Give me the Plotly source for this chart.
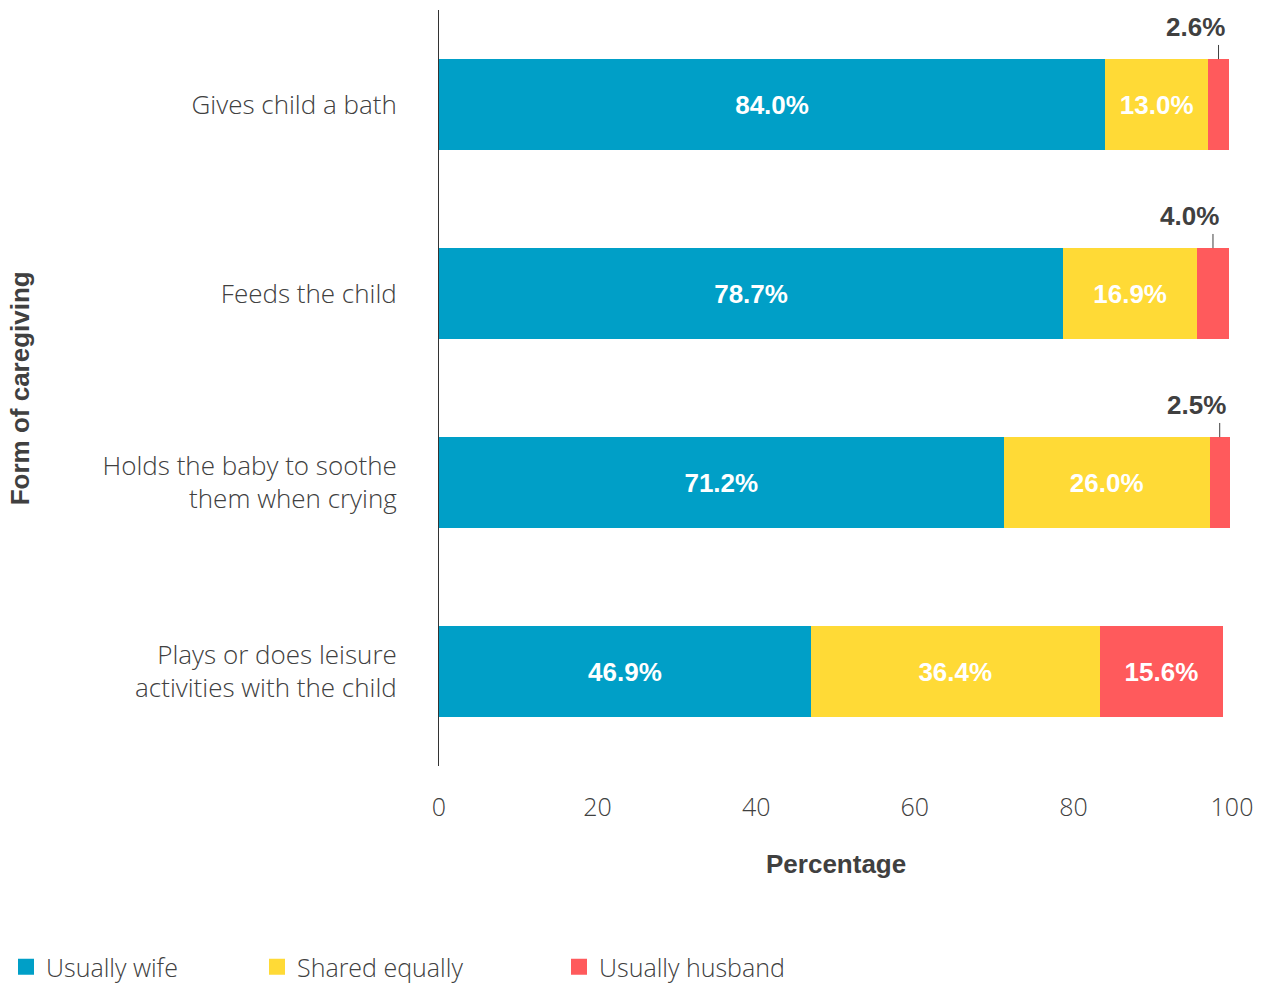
import plotly.graph_objects as go

# Share of couples by who usually does each caregiving task (%)
categories = [
    "Gives child a bath",
    "Feeds the child",
    "Holds the baby to soothe<br>them when crying",
    "Plays or does leisure<br>activities with the child",
]
usually_wife = [84.0, 78.7, 71.2, 46.9]
shared_equally = [13.0, 16.9, 26.0, 36.4]
usually_husband = [2.6, 4.0, 2.5, 15.6]

series = [
    ("Usually wife", usually_wife, "#009FC7"),
    ("Shared equally", shared_equally, "#FFDA36"),
    ("Usually husband", usually_husband, "#FF5A5C"),
]
# left edge of each legend entry, in pixels
legend_left = [6, 257, 559]

W, H = 1265, 985
TEXT = "#404040"
LIGHT_FAMILY = "Open Sans, Roboto, Liberation Sans, sans-serif"
LIGHT = dict(family=LIGHT_FAMILY, size=26, color=TEXT, weight=300)
LEGEND_FONT = dict(family=LIGHT_FAMILY, size=25, color=TEXT, weight=300)
TICK = dict(family=LIGHT_FAMILY, size=25, color=TEXT, weight=300)
BOLD = dict(family="Liberation Sans, Arial, sans-serif", size=26, color=TEXT, weight="bold")
SMALL_LIMIT = 5  # segments narrower than this get their label above the bar

fig = go.Figure()

for k, (name, values, color) in enumerate(series):
    labels = [f"{v:.1f}%" if v >= SMALL_LIMIT else "" for v in values]
    fig.add_trace(go.Bar(
        y=categories, x=values, orientation="h", name=name,
        marker=dict(color=color, line=dict(width=0)),
        width=0.48, text=labels, textposition="inside",
        insidetextanchor="middle",
        textfont=dict(family=BOLD["family"], size=26, color="white", weight="bold"),
        showlegend=False, hoverinfo="skip",
    ))
    # legend entry with a larger square swatch, one legend per entry
    legend_id = "legend" if k == 0 else f"legend{k + 1}"
    fig.add_trace(go.Scatter(
        x=[None], y=[None], mode="markers", name=name,
        marker=dict(symbol="square", size=21, color=color),
        showlegend=True, legend=legend_id,
    ))
    fig.update_layout({legend_id: dict(
        orientation="h", xref="container", yref="container",
        x=legend_left[k] / W, xanchor="left", y=1 - 967 / H, yanchor="middle",
        font=LEGEND_FONT, itemsizing="trace", bgcolor="rgba(0,0,0,0)",
    )})

# Labels above narrow segments, with a short leader line
for i, cat in enumerate(categories):
    v = usually_husband[i]
    if v < SMALL_LIMIT:
        xc = usually_wife[i] + shared_equally[i] + v / 2
        fig.add_shape(type="line", xref="x", yref="y",
                      x0=xc, x1=xc, y0=i - 0.24, y1=i - 0.315,
                      line=dict(color=TEXT, width=1))
        fig.add_annotation(x=xc, y=i - 0.41, xref="x", yref="y",
                           text=f"{v:.1f}%", showarrow=False,
                           xanchor="right", yanchor="middle", xshift=8,
                           font=BOLD)

# Axis titles
fig.add_annotation(text="Percentage", xref="paper", yref="paper",
                   x=0.5, y=-0.129, showarrow=False,
                   xanchor="center", yanchor="middle", font=BOLD)
fig.add_annotation(text="Form of caregiving", xref="paper", yref="paper",
                   x=-0.528, y=0.5, textangle=-90, showarrow=False,
                   xanchor="center", yanchor="middle", font=BOLD)

fig.update_layout(
    barmode="stack",
    width=W, height=H,
    margin=dict(l=439, r=33, t=10, b=219),
    paper_bgcolor="white", plot_bgcolor="white",
    font=LIGHT,
    showlegend=True,
    xaxis=dict(range=[0, 100], tickvals=[0, 20, 40, 60, 80, 100],
               showgrid=False, zeroline=False, showline=False,
               ticks="", ticklabelstandoff=24, tickfont=TICK, fixedrange=True),
    yaxis=dict(range=[3.5, -0.5], showgrid=False, zeroline=False,
               showline=True, linecolor="#333333", linewidth=1,
               ticks="", ticklabelstandoff=36, tickfont=LIGHT, fixedrange=True),
)

fig.write_html("out.html")
